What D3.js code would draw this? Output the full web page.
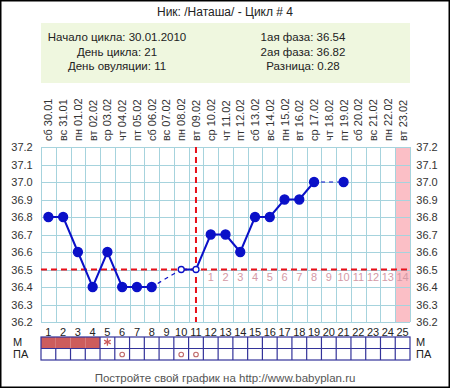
<!DOCTYPE html>
<html>
<head>
<meta charset="utf-8">
<script src="https://cdn.jsdelivr.net/npm/d3@7"></script>
<style>
body{margin:0;background:#fff;}
text{font-family:"Liberation Sans",Arial,sans-serif;}
</style>
</head>
<body>
<script>
// chart data
var weekdays = ["сб","вс","пн","вт","ср","чт","пт","сб","вс","пн","вт","ср","чт","пт","сб","вс","пн","вт","ср","чт","пт","сб","вс","пн","вт"];
var dates = ["30.01","31.01","01.02","02.02","03.02","04.02","05.02","06.02","07.02","08.02","09.02","10.02","11.02","12.02","13.02","14.02","15.02","16.02","17.02","18.02","19.02","20.02","21.02","22.02","23.02"];
var temps = [36.8,36.8,36.6,36.4,36.6,36.4,36.4,36.4,null,36.5,36.5,36.7,36.7,36.6,36.8,36.8,36.9,36.9,37.0,null,37.0];
var openDays = [10,11];
var yTicks = [36.2,36.3,36.4,36.5,36.6,36.7,36.8,36.9,37.0,37.1,37.2];
var menses = [1,2,3,4];
var spotting = [5];
var paDays = [6,10,11];
var coverline = 36.5;
var ovulationDay = 11;
var lutealDays = [1,2,3,4,5,6,7,8,9,10,11,12,13,14];
var infoLeft = ["Начало цикла: 30.01.2010","День цикла: 21","День овуляции: 11"];
var infoRight = ["1ая фаза: 36.54","2ая фаза: 36.82","Разница: 0.28"];

var W = 450, H = 388;
var svg = d3.select("body").append("svg").attr("width", W).attr("height", H);

var days = d3.range(1, 26);
var x = d3.scaleBand().domain(days).range([41, 410]);
var y = d3.scaleLinear().domain([36.2, 37.2]).range([322, 147]);
var cx = function(d){ return x(d) + x.bandwidth()/2; };

// frame
svg.append("rect").attr("x",0.75).attr("y",0.75).attr("width",W-1.5).attr("height",H-1.5)
  .attr("fill","none").attr("stroke","#000").attr("stroke-width",1.5);

svg.append("text").attr("x",225).attr("y",16).attr("text-anchor","middle")
  .style("font-size","12px").attr("fill","#222").text("Ник: /Наташа/ - Цикл # 4");

// info box
svg.append("rect").attr("x",41).attr("y",23).attr("width",369).attr("height",60).attr("fill","#eff7df");
infoLeft.forEach(function(t,i){
  svg.append("text").attr("x",117).attr("y",41+i*14.5).attr("text-anchor","middle")
    .style("font-size","11.5px").attr("fill","#222").text(t);
});
infoRight.forEach(function(t,i){
  svg.append("text").attr("x",303).attr("y",41+i*14.5).attr("text-anchor","middle")
    .style("font-size","11.5px").attr("fill","#222").text(t);
});

// rotated date labels
days.forEach(function(d,i){
  svg.append("text").attr("transform","translate("+(cx(d)+4)+",141) rotate(-90)")
    .style("font-size","11px").attr("fill","#333")
    .text(weekdays[i] + "  " + dates[i]);
});

// pink last column
svg.append("rect").attr("x",x(25)).attr("y",147).attr("width",x.bandwidth()).attr("height",175).attr("fill","#fbbfc6");

// grid
var g = svg.append("g").attr("stroke","#a6d3dd").attr("stroke-width",1);
yTicks.forEach(function(t){
  g.append("line").attr("x1",41).attr("x2",410).attr("y1",Math.round(y(t))+0.5).attr("y2",Math.round(y(t))+0.5);
});
days.concat([26]).forEach(function(d){
  var xx = d === 26 ? 410 : x(d);
  g.append("line").attr("x1",Math.round(xx)+0.5).attr("x2",Math.round(xx)+0.5).attr("y1",147).attr("y2",322);
});

// y labels both sides
yTicks.forEach(function(t){
  svg.append("text").attr("x",22).attr("y",y(t)+4).attr("text-anchor","middle")
    .style("font-size","11px").attr("fill","#333").text(t.toFixed(1));
  svg.append("text").attr("x",427).attr("y",y(t)+4).attr("text-anchor","middle")
    .style("font-size","11px").attr("fill","#333").text(t.toFixed(1));
});

// day numbers
days.forEach(function(d){
  svg.append("text").attr("x",cx(d)).attr("y",336).attr("text-anchor","middle")
    .style("font-size","11px").attr("fill","#222").text(d);
});

// luteal day counter
lutealDays.forEach(function(n){
  svg.append("text").attr("x",cx(ovulationDay+n)).attr("y",281).attr("text-anchor","middle")
    .style("font-size","11px").attr("fill","#d49aa6").text(n);
});

// cover line and ovulation line
svg.append("line").attr("x1",41).attr("x2",410).attr("y1",y(coverline)).attr("y2",y(coverline))
  .attr("stroke","#e8101a").attr("stroke-width",2).attr("stroke-dasharray","6,4");
svg.append("line").attr("x1",cx(ovulationDay)).attr("x2",cx(ovulationDay)).attr("y1",147).attr("y2",322)
  .attr("stroke","#e8101a").attr("stroke-width",2).attr("stroke-dasharray","6,4");

// temperature line
var pts = temps.map(function(v,i){ return {day:i+1, v:v}; });
var valid = pts.filter(function(p){ return p.v !== null; });
var line = d3.line().defined(function(p){ return p.v !== null; })
  .x(function(p){ return cx(p.day); }).y(function(p){ return y(p.v); });
svg.append("path").attr("d", line(pts)).attr("fill","none").attr("stroke","#0a10c8").attr("stroke-width",2);

// dashed bridges over gaps
for (var i = 1; i < valid.length; i++) {
  var a = valid[i-1], b = valid[i];
  if (b.day - a.day > 1) {
    var x1 = cx(a.day), y1 = y(a.v), x2 = cx(b.day), y2 = y(b.v);
    var dx = x2-x1, dy = y2-y1, len = Math.sqrt(dx*dx+dy*dy);
    svg.append("line")
      .attr("x1", x1 + dx/len*7).attr("y1", y1 + dy/len*7)
      .attr("x2", x2 - dx/len*4).attr("y2", y2 - dy/len*4)
      .attr("stroke","#0a10c8").attr("stroke-width",1.2).attr("stroke-dasharray","4,4");
  }
}

svg.selectAll("circle.pt").data(valid).enter().append("circle").attr("class","pt")
  .attr("cx",function(p){ return cx(p.day); }).attr("cy",function(p){ return y(p.v); })
  .attr("r",function(p){ return openDays.indexOf(p.day) >= 0 ? 3 : 4.5; })
  .attr("fill",function(p){ return openDays.indexOf(p.day) >= 0 ? "#fff" : "#0a10c8"; })
  .attr("stroke","#0a10c8").attr("stroke-width",1.3);

// M / ПА rows
var rowY = [337, 348.5], rowH = 11.5;
menses.forEach(function(d){
  svg.append("rect").attr("x",x(d)).attr("y",rowY[0]).attr("width",x.bandwidth()).attr("height",rowH).attr("fill","#cd5c5c");
});
var rows = svg.append("g").attr("fill","none").attr("stroke","#33339a").attr("stroke-width",1.2);
rows.append("rect").attr("x",41).attr("y",rowY[0]).attr("width",369).attr("height",rowH*2);
rows.append("line").attr("x1",41).attr("x2",410).attr("y1",rowY[1]).attr("y2",rowY[1]);
days.slice(1).forEach(function(d){
  if (menses.indexOf(d) >= 0 && menses.indexOf(d-1) >= 0) {
    rows.append("line").attr("x1",x(d)).attr("x2",x(d)).attr("y1",rowY[1]).attr("y2",rowY[1]+rowH);
  } else {
    rows.append("line").attr("x1",x(d)).attr("x2",x(d)).attr("y1",rowY[0]).attr("y2",rowY[1]+rowH);
  }
});
// spotting mark as a drawn asterisk
var star = d3.symbol().type(d3.symbolAsterisk).size(40);
spotting.forEach(function(d){
  svg.append("path").attr("d", star()).attr("transform","translate("+cx(d)+","+(rowY[0]+5)+")")
    .attr("fill","none").attr("stroke","#cd5c5c").attr("stroke-width",1.3);
});
paDays.forEach(function(d){
  svg.append("circle").attr("cx",cx(d)).attr("cy",rowY[1]+6).attr("r",2.3)
    .attr("fill","none").attr("stroke","#c06a6a").attr("stroke-width",1.1);
});
[["М",346],["ПА",358]].forEach(function(l){
  svg.append("text").attr("x",13).attr("y",l[1]).style("font-size","11px").attr("fill","#222").text(l[0]);
  svg.append("text").attr("x",416).attr("y",l[1]).style("font-size","11px").attr("fill","#222").text(l[0]);
});

svg.append("text").attr("x",225).attr("y",382).attr("text-anchor","middle")
  .style("font-size","11.5px").attr("fill","#555").text("Постройте свой график на http://www.babyplan.ru");
</script>
</body>
</html>
